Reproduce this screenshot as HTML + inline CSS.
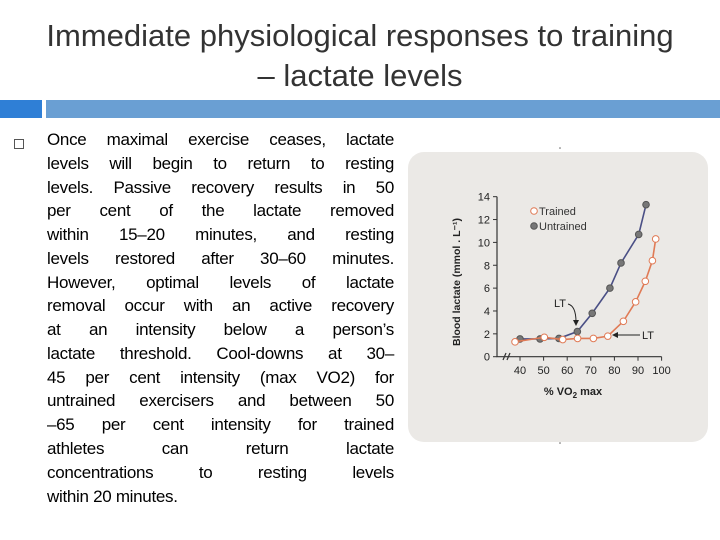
<!DOCTYPE html>
<html><head><meta charset="utf-8"><style>
body{margin:0;width:720px;height:540px;background:#fff;position:relative;overflow:hidden;font-family:"Liberation Sans",sans-serif;}
.t{position:absolute;left:0;width:720px;text-align:center;font-size:31px;color:#333;}
.bar{position:absolute;top:100px;height:18px;}
.ln{position:absolute;left:47px;width:347px;font-size:17px;color:#000;text-align:justify;text-align-last:justify;white-space:nowrap;letter-spacing:-0.3px;}
.ln.last{text-align-last:left;}
</style></head><body>
<div class="t" style="top:18px">Immediate physiological responses to training</div>
<div class="t" style="top:58px">– lactate levels</div>
<div class="bar" style="left:0;width:42px;background:#2f7fd6"></div>
<div class="bar" style="left:46px;width:674px;background:#6a9fd3"></div>
<div style="position:absolute;left:14px;top:139px;width:8px;height:8px;border:1px solid #555"></div>
<div>
<div class="ln" style="top:130px">Once maximal exercise ceases, lactate</div>
<div class="ln" style="top:154px">levels will begin to return to resting</div>
<div class="ln" style="top:178px">levels. Passive recovery results in 50</div>
<div class="ln" style="top:201px">per cent of the lactate removed</div>
<div class="ln" style="top:225px">within 15–20 minutes, and resting</div>
<div class="ln" style="top:249px">levels restored after 30–60 minutes.</div>
<div class="ln" style="top:273px">However, optimal levels of lactate</div>
<div class="ln" style="top:296px">removal occur with an active recovery</div>
<div class="ln" style="top:320px">at an intensity below a person’s</div>
<div class="ln" style="top:344px">lactate threshold. Cool-downs at 30–</div>
<div class="ln" style="top:368px">45 per cent intensity (max VO2) for</div>
<div class="ln" style="top:391px">untrained exercisers and between 50</div>
<div class="ln" style="top:415px">–65 per cent intensity for trained</div>
<div class="ln" style="top:439px">athletes can return lactate</div>
<div class="ln" style="top:463px">concentrations to resting levels</div>
<div class="ln last" style="top:487px">within 20 minutes.</div>
</div>
<svg id="c" width="720" height="540" style="position:absolute;left:0;top:0">
<rect x="408" y="152" width="300" height="290" rx="16" fill="#ebe9e6"/>
<circle cx="560" cy="148" r="0.8" fill="#666"/><circle cx="560" cy="443" r="0.8" fill="#666"/>
</svg>
<script>
const yTicks=[0,2,4,6,8,10,12,14];
const xTicks=[40,50,60,70,80,90,100];
const trainedX=[37.9,50.3,58.1,64.4,71.1,77.2,83.8,89.0,93.1,96.1,97.5];
const trainedY=[1.3,1.7,1.5,1.6,1.6,1.8,3.1,4.8,6.6,8.4,10.3];
const untrainedX=[40,48.5,56.5,64.3,70.6,78.1,82.8,90.3,93.4];
const untrainedY=[1.55,1.55,1.6,2.2,3.8,6.0,8.2,10.7,13.3];
const svg=document.getElementById('c'),NS='http://www.w3.org/2000/svg';
const X=v=>520+(v-40)*2.36, Y=v=>356.7-v*11.43;
function mk(t,a,p){const e=document.createElementNS(NS,t);for(const k in a)e.setAttribute(k,a[k]);(p||svg).appendChild(e);return e;}
let ax=mk('path',{d:`M497,${Y(14)}V${Y(0)}H${X(100)}`,stroke:'#333',fill:'none','stroke-width':1.2});


mk('path',{d:'M503,360 L506,353 M507,360 L510,353',stroke:'#333','stroke-width':1.2});
yTicks.forEach(v=>{mk('line',{x1:493,x2:497,y1:Y(v),y2:Y(v),stroke:'#333'});
const t=mk('text',{x:490,y:Y(v)+4,'text-anchor':'end','font-size':11,fill:'#222'});t.textContent=v;

});
xTicks.forEach(v=>{mk('line',{x1:X(v),x2:X(v),y1:Y(0),y2:Y(0)+4,stroke:'#333'});
const t=mk('text',{x:X(v),y:374,'text-anchor':'middle','font-size':11,fill:'#222'});t.textContent=v;

});
let xt=mk('text',{x:573,y:395,'text-anchor':'middle','font-size':11,'font-weight':'bold',fill:'#222'});xt.innerHTML='% VO<tspan font-size="8" dy="3">2</tspan><tspan dy="-3"> max</tspan>';


let yt=mk('text',{x:0,y:0,'text-anchor':'middle','font-size':10.5,'font-weight':'bold',fill:'#222',transform:'translate(460,282) rotate(-90)'});yt.textContent='Blood lactate (mmol . L⁻¹)';


function series(xs,ys,col,fill,name){
 const l=mk('polyline',{points:xs.map((x,i)=>X(x)+','+Y(ys[i])).join(' '),fill:'none',stroke:col,'stroke-width':1.6});
 
 
 xs.forEach((x,i)=>{const c=mk('circle',{cx:X(x),cy:Y(ys[i]),r:3.3,fill:fill,stroke:fill=='#fff'?'#e07a55':'#555','stroke-width':1});
 
 });
}
series(untrainedX,untrainedY,'#4a4f85','#777','untrained');
series(trainedX,trainedY,'#e07a55','#fff','trained');
mk('circle',{cx:534,cy:211,r:3.3,fill:'#fff',stroke:'#e07a55'});
mk('circle',{cx:534,cy:226,r:3.3,fill:'#777',stroke:'#555'});
let l1=mk('text',{x:539,y:215,'font-size':11,fill:'#333'});l1.textContent='Trained';


let l2=mk('text',{x:539,y:230,'font-size':11,fill:'#333'});l2.textContent='Untrained';


let a1=mk('text',{x:554,y:307,'font-size':11,fill:'#222'});a1.textContent='LT';


mk('path',{d:'M568,304 Q576,306 576,322',fill:'none',stroke:'#222'});
mk('path',{d:'M573,320 L576,326 L579,320Z',fill:'#222'});
let a2=mk('text',{x:642,y:339,'font-size':11,fill:'#222'});a2.textContent='LT';


mk('line',{x1:617,x2:640,y1:335,y2:335,stroke:'#222'});
mk('path',{d:'M612,335 L618,332 L618,338Z',fill:'#222'});
</script>
</body></html>
